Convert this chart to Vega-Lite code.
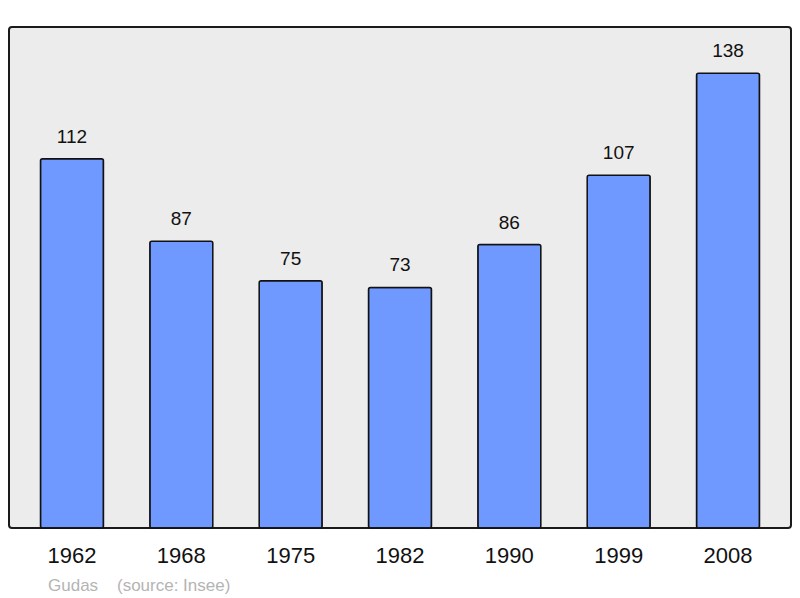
{
  "$schema": "https://vega.github.io/schema/vega-lite/v6.json",
  "width": 782,
  "height": 501,
  "autosize": {"type": "none"},
  "padding": {"left": 9, "top": 27, "right": 9, "bottom": 70},
  "background": "white",
  "title": {
    "text": "Gudas\u00a0\u00a0\u00a0\u00a0(source: Insee)",
    "orient": "bottom",
    "anchor": "start",
    "dx": 39,
    "offset": 12,
    "font": "Liberation Sans",
    "fontSize": 17,
    "fontWeight": "normal",
    "color": "#b4b4b4"
  },
  "config": {
    "view": {"fill": "#ececec", "stroke": "#1a1a1a", "strokeWidth": 2, "cornerRadius": 3},
    "font": "Liberation Sans"
  },
  "data": {
    "values": [
      {"year": "1962", "population": 112},
      {"year": "1968", "population": 87},
      {"year": "1975", "population": 75},
      {"year": "1982", "population": 73},
      {"year": "1990", "population": 86},
      {"year": "1999", "population": 107},
      {"year": "2008", "population": 138}
    ]
  },
  "encoding": {
    "x": {
      "field": "year",
      "type": "ordinal",
      "sort": null,
      "scale": {"paddingInner": 0.424, "paddingOuter": 0.288},
      "axis": {
        "title": null,
        "domain": false,
        "ticks": false,
        "labelAngle": 0,
        "labelFontSize": 22,
        "labelColor": "#111",
        "labelPadding": 17
      }
    },
    "y": {
      "field": "population",
      "type": "quantitative",
      "scale": {"domain": [0, 152], "nice": false},
      "axis": null
    }
  },
  "layer": [
    {
      "mark": {"type": "bar", "fill": "#7099ff", "stroke": "#111", "strokeWidth": 1.5, "cornerRadius": 2}
    },
    {
      "mark": {"type": "text", "baseline": "bottom", "dy": -12, "fontSize": 19, "color": "#111"},
      "encoding": {"text": {"field": "population", "type": "quantitative"}}
    }
  ]
}
